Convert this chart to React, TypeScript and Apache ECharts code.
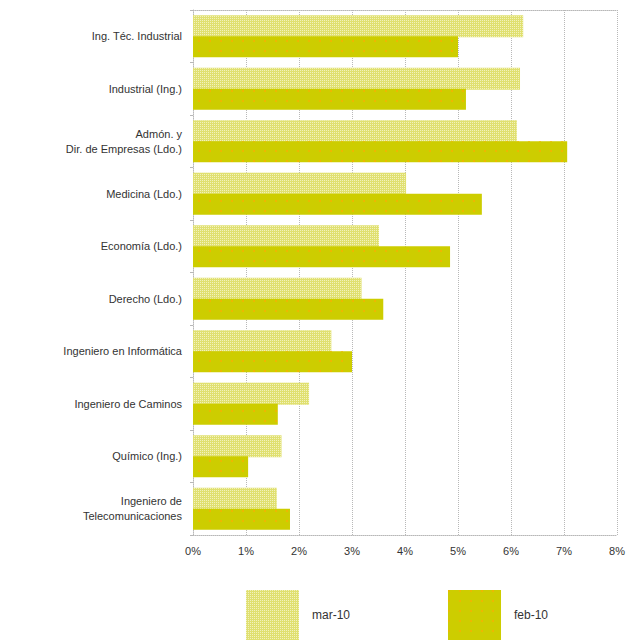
import React, { useEffect, useRef } from "react";
import * as echarts from "echarts";

const categories = [
  "Ing. Téc. Industrial",
  "Industrial (Ing.)",
  "Admón. y\nDir. de Empresas (Ldo.)",
  "Medicina (Ldo.)",
  "Economía (Ldo.)",
  "Derecho (Ldo.)",
  "Ingeniero en Informática",
  "Ingeniero de Caminos",
  "Químico (Ing.)",
  "Ingeniero de\nTelecomunicaciones",
];
const seriesNames = ["mar-10", "feb-10"];
const mar10 = [6.23, 6.17, 6.11, 4.02, 3.51, 3.18, 2.61, 2.19, 1.67, 1.58];
const feb10 = [5.0, 5.15, 7.06, 5.45, 4.85, 3.59, 3.0, 1.6, 1.04, 1.83];
const xTicks = { min: 0, max: 8, interval: 1 };

export default function App() {
  const ref = useRef<HTMLDivElement>(null);
  useEffect(() => {
    if (!ref.current) return;
    const chart = echarts.init(ref.current, null, { renderer: "svg" });
    const font = "Liberation Sans, Arial, sans-serif";
    chart.setOption({
      animation: false,
      backgroundColor: "#ffffff",
      aria: { enabled: true, decal: { show: true } },
      textStyle: { fontFamily: font },
      grid: { left: 193, right: 24, top: 10, bottom: 105, containLabel: false },
      legend: {
        data: seriesNames,
        left: 241,
        top: 585,
        itemWidth: 53,
        itemHeight: 50,
        itemGap: 98,
        icon: "rect",
        textStyle: { fontSize: 12, color: "#333", fontFamily: font, padding: [0, 0, 0, 8] },
      },
      xAxis: [
        {
          type: "value",
          min: xTicks.min,
          max: xTicks.max,
          interval: xTicks.interval,
          position: "bottom",
          axisLine: { show: true, lineStyle: { color: "#b8b8b8", type: "dotted", width: 1 } },
          axisTick: { show: false },
          splitLine: { show: true, lineStyle: { color: "#b8b8b8", type: "dotted", width: 1 } },
          axisLabel: {
            formatter: (v: number) => v + "%",
            fontSize: 11,
            color: "#333",
            margin: 10,
            fontFamily: font,
          },
        },
        {
          type: "value",
          min: xTicks.min,
          max: xTicks.max,
          interval: xTicks.interval,
          position: "top",
          axisLine: { show: true, lineStyle: { color: "#b8b8b8", type: "dotted", width: 1 } },
          axisTick: { show: false },
          axisLabel: { show: false },
          splitLine: { show: false },
        },
      ],
      yAxis: {
        type: "category",
        data: categories,
        inverse: true,
        axisLine: { show: true, lineStyle: { color: "#b8b8b8", type: "dotted" } },
        axisTick: { show: true, length: 3, lineStyle: { color: "#b8b8b8" } },
        axisLabel: {
          fontSize: 11,
          color: "#333",
          margin: 11,
          lineHeight: 15,
          align: "right",
          fontFamily: font,
        },
      },
      series: [
        {
          name: seriesNames[0],
          type: "bar",
          data: mar10,
          barWidth: 22,
          barGap: "-5%",
          itemStyle: {
            color: "#e0e070",
            decal: {
              symbol: "rect",
              symbolSize: 1,
              color: "#f2f2bc",
              dashArrayX: [1, 1],
              dashArrayY: [1, 1],
              rotation: 0,
            },
          },
        },
        {
          name: seriesNames[1],
          type: "bar",
          data: feb10,
          barWidth: 21,
          itemStyle: {
            color: "#cdcd00",
            decal: {
              symbol: "circle",
              symbolSize: 1,
              color: "#f2b400",
              dashArrayX: [2, 9],
              dashArrayY: [2, 8],
              rotation: 0,
            },
          },
        },
      ],
    });
    return () => chart.dispose();
  }, []);
  return <div ref={ref} style={{ width: 641, height: 640, position: "absolute", left: 0, top: 0 }} />;
}
